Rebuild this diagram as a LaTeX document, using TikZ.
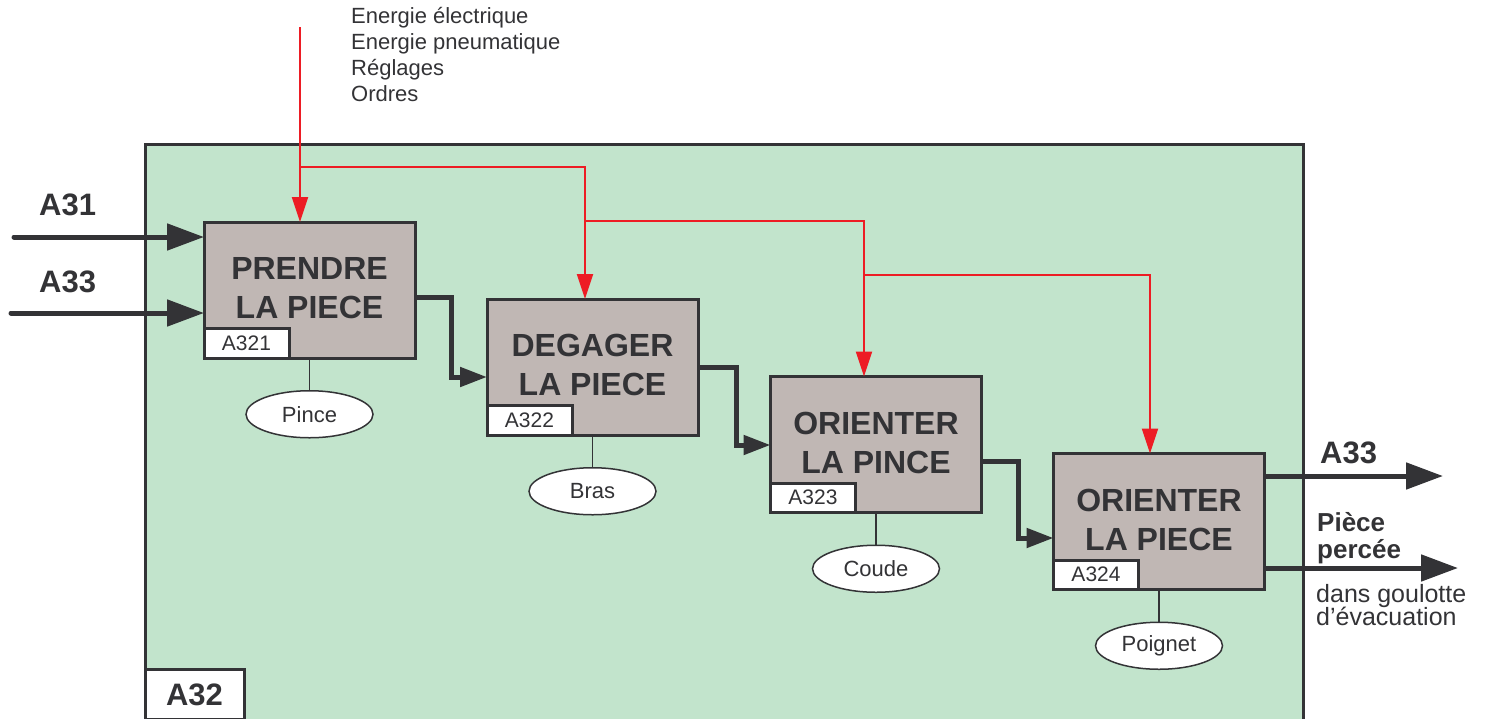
\documentclass[tikz,border=0pt]{standalone}
\usepackage{fontspec}
\setmainfont{Liberation Sans}
\usetikzlibrary{arrows.meta,calc,positioning,shapes.geometric}

\definecolor{ink}{HTML}{333336}
\definecolor{panel}{HTML}{C2E4CC}
\definecolor{boxfill}{HTML}{C0B7B4}
\definecolor{ctrl}{HTML}{ED1C24}

\begin{document}
\begin{tikzpicture}[x=1pt,y=-1pt,
  frame/.style={draw=ink, line width=3pt},
  activity/.style={draw=ink, fill=boxfill, line width=3pt,
    minimum width=211pt, minimum height=136pt, outer sep=0pt, inner sep=0pt,
    text depth=4pt, align=center, text=ink, font=\bfseries\fontsize{32}{39}\selectfont},
  refbox/.style={draw=ink, fill=white, line width=3pt, anchor=south west,
    minimum width=85pt, minimum height=29.5pt, outer sep=0pt, inner sep=0pt,
    text=ink, font=\fontsize{21}{21}\selectfont},
  mech/.style={ellipse, draw=ink, fill=white, line width=1.5pt,
    minimum width=127pt, minimum height=47pt, inner sep=0pt,
    text=ink, font=\fontsize{22}{22}\selectfont},
  mechlink/.style={draw=ink, line width=1.5pt},
  ctrlarrow/.style={draw=ctrl, line width=2pt, -{Triangle[length=25pt,width=16pt]}},
  flow/.style={draw=ink, line width=5pt, -{Triangle[length=27pt,width=19pt]}},
  bigflow/.style={draw=ink, line width=5pt, -{Triangle[length=37pt,width=26pt]}},
  biglabel/.style={anchor=base west, inner sep=0pt, text=ink, font=\bfseries\fontsize{31}{31}\selectfont},
  midlabel/.style={anchor=base west, inner sep=0pt, text=ink, font=\bfseries\fontsize{26}{26}\selectfont},
  plain/.style={anchor=base west, inner sep=0pt, text=ink, font=\fontsize{22}{22}\selectfont},
  note/.style={anchor=base west, inner sep=0pt, text=ink, font=\fontsize{25}{25}\selectfont}
]
\useasboundingbox (0,0) rectangle (1485,718);
\clip (0,0) rectangle (1485,718);

% enclosing activity A32
\draw[frame, fill=panel] (145,144) rectangle (1303,760);
\node[frame, fill=white, anchor=north west, minimum width=99pt, minimum height=50pt,
      inner sep=0pt, outer sep=0pt, text=ink, font=\bfseries\fontsize{31}{31}\selectfont]
      (a32) at (145,669.5) {A32};

% control inputs
\node[plain] (t1) at (351,23) {Energie électrique};
\node[plain] (t2) at (351,49) {Energie pneumatique};
\node[plain] (t3) at (351,75) {Réglages};
\node[plain] (t4) at (351,101) {Ordres};

% sub-activities
\node[activity] (b1) at (309.5,290) {PRENDRE\\LA PIECE};
\node[activity] (b2) at (592.5,367) {DEGAGER\\LA PIECE};
\node[activity] (b3) at (876,444.5) {ORIENTER\\LA PINCE};
\node[activity] (b4) at (1159,521.5) {ORIENTER\\LA PIECE};

\node[refbox] (r1) at (b1.south west) {A321};
\node[refbox] (r2) at (b2.south west) {A322};
\node[refbox] (r3) at (b3.south west) {A323};
\node[refbox] (r4) at (b4.south west) {A324};

% mechanisms
\node[mech, below=32pt of b1.south] (m1) {Pince};
\node[mech, below=32pt of b2.south] (m2) {Bras};
\node[mech, below=32pt of b3.south] (m3) {Coude};
\node[mech, below=32pt of b4.south] (m4) {Poignet};
\draw[mechlink] (b1.south) -- (m1.north);
\draw[mechlink] (b2.south) -- (m2.north);
\draw[mechlink] (b3.south) -- (m3.north);
\draw[mechlink] (b4.south) -- (m4.north);

% control distribution
\coordinate (src) at (300,27);
\coordinate (j1) at (300,167);
\coordinate (j2) at (585,221);
\coordinate (j3) at (864,275);
\draw[ctrlarrow] (src) -- ($(b1.north west)+(96,0)$);
\draw[ctrlarrow] (j1) -| ($(b2.north west)+(98,0)$);
\draw[ctrlarrow] (j2) -| ($(b3.north west)+(93.5,0)$);
\draw[ctrlarrow] (j3) -| ($(b4.north west)+(96.5,0)$);

% external inputs
\coordinate (in1) at (14,237);
\coordinate (in2) at (11,313);
\draw[bigflow, line cap=round] (in1) -- (in1 -| b1.west);
\draw[bigflow, line cap=round] (in2) -- (in2 -| b1.west);
\node[biglabel] (l31) at (39,215) {A31};
\node[biglabel] (l33) at (39,292) {A33};

% flow between sub-activities
\draw[flow] ($(b1.north east)+(0,75)$) -- ++(36,0) |- ($(b2.north west)+(0,78)$);
\draw[flow] ($(b2.north east)+(0,68.5)$) -- ++(38.5,0) |- ($(b3.north west)+(0,68.5)$);
\draw[flow] ($(b3.north east)+(0,84.5)$) -- ++(36.5,0) |- ($(b4.north west)+(0,84.5)$);

% outputs
\coordinate (out1) at (1443,476);
\coordinate (out2) at (1458,568);
\draw[bigflow] (out1 -| b4.east) -- (out1);
\draw[bigflow] (out2 -| b4.east) -- (out2);
\node[biglabel] (o33) at (1320,463) {A33};
\node[midlabel] (p1) at (1317,531) {Pièce};
\node[midlabel] (p2) at (1317,558) {percée};
\node[note] (n1) at (1316,602) {dans goulotte};
\node[note] (n2) at (1316,625) {d’évacuation};
\end{tikzpicture}
\end{document}
